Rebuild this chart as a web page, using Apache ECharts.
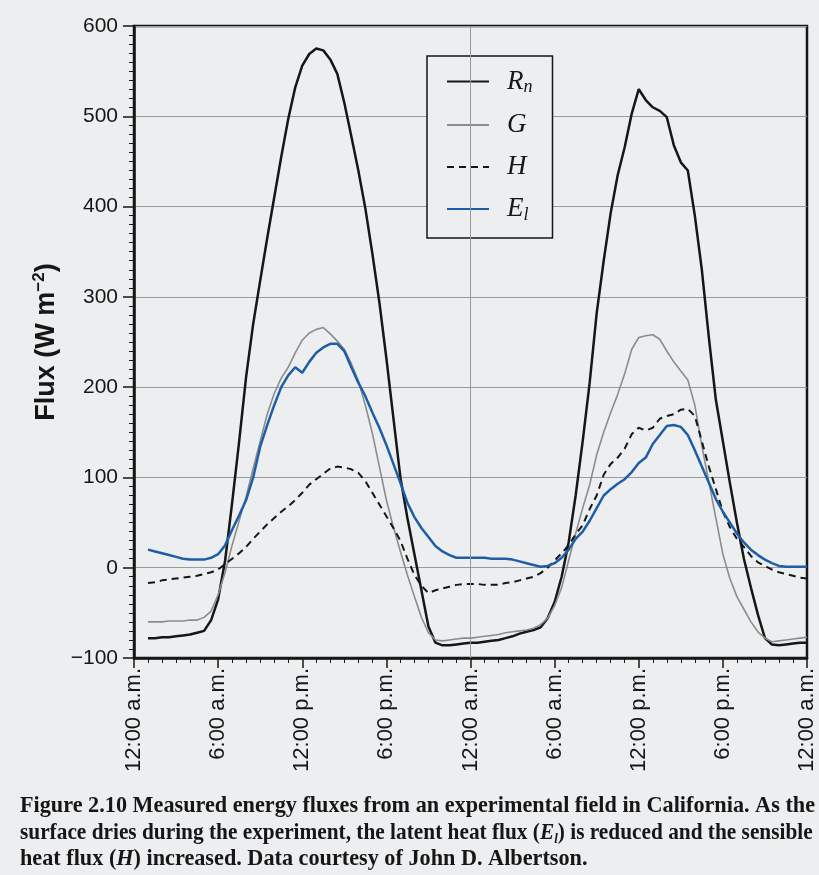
<!DOCTYPE html>
<html>
<head>
<meta charset="utf-8">
<script src="https://cdn.jsdelivr.net/npm/echarts@6/dist/echarts.min.js"></script>
<style>
  html, body { margin: 0; padding: 0; background: #eceef0; }
  #main-chart { width: 819px; height: 875px; }
</style>
</head>
<body>
<div id="main-chart"></div>
<script>
// hours since the first midnight, half-hour steps
const hours = [
  1, 1.5, 2, 2.5, 3, 3.5, 4, 4.5, 5, 5.5, 6, 6.5, 7, 7.5, 8, 8.5, 9, 9.5, 10, 10.5,
  11, 11.5, 12, 12.5, 13, 13.5, 14, 14.5, 15, 15.5, 16, 16.5, 17, 17.5, 18, 18.5, 19, 19.5, 20, 20.5,
  21, 21.5, 22, 22.5, 23, 23.5, 24, 24.5, 25, 25.5, 26, 26.5, 27, 27.5, 28, 28.5, 29, 29.5, 30, 30.5,
  31, 31.5, 32, 32.5, 33, 33.5, 34, 34.5, 35, 35.5, 36, 36.5, 37, 37.5, 38, 38.5, 39, 39.5, 40, 40.5,
  41, 41.5, 42, 42.5, 43, 43.5, 44, 44.5, 45, 45.5, 46, 46.5, 47, 47.5, 48
];

const rn = [
  -78, -78, -77, -77, -76, -75, -74, -72, -70, -58, -35, 8, 72, 140, 212, 270, 318, 365, 410, 455,
  497, 532, 556, 569, 575, 573, 563, 547, 515, 478, 440, 398, 348, 294, 232, 166, 100, 55, 15, -25,
  -65, -83, -86, -86, -85, -84, -83, -83, -82, -81, -80, -78, -76, -73, -71, -69, -66, -56, -38, -10,
  28, 80, 140, 205, 282, 340, 393, 435, 466, 503, 530, 518, 510, 506, 499, 468, 449, 440, 390, 330,
  255, 186, 140, 94, 50, 10, -22, -52, -78, -85, -86, -85, -84, -83, -83
];

const g = [
  -60, -60, -60, -59, -59, -59, -58, -58, -55, -48, -30, -5, 25, 52, 79, 110, 140, 170, 193, 210,
  222, 238, 252, 260, 264, 266, 259, 251, 242, 226, 207, 180, 149, 112, 75, 45, 18, -8, -32, -55,
  -72, -80, -81, -80, -79, -78, -78, -77, -76, -75, -74, -72, -71, -70, -69, -67, -63, -56, -42, -22,
  8, 38, 66, 92, 125, 150, 172, 192, 215, 242, 255, 257, 258, 253, 240, 228, 218, 208, 180, 135,
  95, 55, 15, -12, -32, -46, -60, -71, -78, -82, -81, -80, -79, -78, -77
];

const h = [
  -17, -16, -14, -13, -12, -11, -10, -9, -7, -5, -2, 4, 10, 16, 23, 32, 40, 48, 55, 62,
  68, 75, 83, 92, 98, 104, 110, 112, 111, 109, 105, 96, 83, 70, 57, 44, 30, 10, -8, -20,
  -28, -25, -23, -21, -19, -18, -18, -18, -19, -19, -19, -17, -16, -14, -12, -10, -6, 0, 8, 16,
  25, 37, 47, 65, 80, 103, 115, 122, 132, 148, 155, 152, 155, 165, 168, 170, 175, 176, 168, 140,
  112, 87, 62, 45, 32, 23, 13, 6, 2, -2, -5, -7, -9, -11, -12
];

const el = [
  20, 18, 16, 14, 12, 10, 9, 9, 9, 11, 15, 25, 42, 58, 75, 100, 134, 158, 180, 200,
  213, 222, 216, 228, 238, 244, 248, 248, 240, 222, 205, 190, 172, 155, 136, 115, 94, 72, 56, 44,
  34, 24, 18, 14, 11, 11, 11, 11, 11, 10, 10, 10, 9, 7, 5, 3, 1, 2, 5, 11,
  20, 32, 40, 52, 66, 80, 87, 93, 98, 106, 116, 122, 137, 147, 157, 158, 156, 147, 130, 112,
  94, 76, 62, 50, 38, 28, 20, 14, 9, 5, 2, 1, 1, 1, 1
];

const timeLabels = ['12:00 a.m.', '6:00 a.m.', '12:00 p.m.', '6:00 p.m.',
  '12:00 a.m.', '6:00 a.m.', '12:00 p.m.', '6:00 p.m.', '12:00 a.m.'];

const captionLines = [
  'Figure 2.10 Measured energy fluxes from an experimental field in California. As the',
  'surface dries during the experiment, the latent heat flux (El) is reduced and the sensible',
  'heat flux (H) increased. Data courtesy of John D. Albertson.'
];

const bg = '#eceef0';
const ink = '#161616';
const sans = '"Liberation Sans", Arial, sans-serif';
const serif = '"Liberation Serif", "Times New Roman", serif';

const pairs = (vals) => hours.map((x, i) => [x, vals[i]]);

// caption font is narrower than Times, squeeze it to the page width
const measure = document.createElement('canvas').getContext('2d');
measure.font = 'bold 23px "Liberation Serif"';
const sx1 = 795 / measure.measureText(captionLines[0]).width;
const sx2 = 795 / measure.measureText(captionLines[1]).width;

const capRich = {
  i: { fontFamily: serif, fontWeight: 'bold', fontStyle: 'italic', fontSize: 23, fill: ink, lineHeight: 26 },
  sub: { fontFamily: serif, fontWeight: 'bold', fontStyle: 'italic', fontSize: 14, fill: ink, lineHeight: 14, verticalAlign: 'bottom' }
};
const capStyle = { fontFamily: serif, fontWeight: 'bold', fontSize: 23, fill: ink, verticalAlign: 'middle' };

const chartDom = document.getElementById('main-chart');
const myChart = echarts.init(chartDom);

const option = {
  backgroundColor: bg,
  animation: false,
  grid: {
    left: 134, right: 12, top: 26, bottom: 217,
    show: true, borderColor: ink, borderWidth: 2.5, backgroundColor: 'transparent'
  },
  legend: {
    orient: 'vertical',
    left: 427, top: 56,
    padding: [12, 20, 14, 19],
    itemWidth: 42, itemHeight: 14, itemGap: 15,
    backgroundColor: bg,
    borderColor: ink, borderWidth: 1.5,
    itemStyle: { opacity: 0 },
    formatter: (name) => ({ Rn: '{i|R}{s|n}', G: '{i|G}', H: '{i|H}', El: '{i|E}{s|l}' })[name],
    textStyle: {
      padding: [0, 0, 0, 13],
      rich: {
        i: { fontFamily: serif, fontStyle: 'italic', fontSize: 27, color: ink, lineHeight: 30 },
        s: { fontFamily: serif, fontStyle: 'italic', fontSize: 18, color: ink, lineHeight: 14, verticalAlign: 'bottom' }
      }
    }
  },
  xAxis: {
    type: 'value', min: 0, max: 48, interval: 6,
    axisLine: { onZero: false, lineStyle: { color: ink, width: 2.5 } },
    axisTick: { length: 10, lineStyle: { color: ink, width: 1.5 } },
    minorTick: { show: true, splitNumber: 6, length: 5, lineStyle: { color: ink, width: 1 } },
    splitLine: { show: false },
    axisLabel: {
      rotate: 90, margin: 10, color: ink, fontFamily: sans, fontSize: 22,
      formatter: (v) => timeLabels[Math.round(v / 6)]
    }
  },
  yAxis: {
    type: 'value', min: -100, max: 600, interval: 100,
    name: '{b|Flux (W m}{sup|\u22122}{b|)}',
    nameLocation: 'middle', nameGap: 72,
    nameTextStyle: {
      rich: {
        b: { fontFamily: sans, fontWeight: 'bold', fontSize: 27, color: ink, lineHeight: 30 },
        sup: { fontFamily: sans, fontWeight: 'bold', fontSize: 17, color: ink, lineHeight: 16, verticalAlign: 'top' }
      }
    },
    axisLine: { lineStyle: { color: ink, width: 2.5 } },
    axisTick: { length: 11, lineStyle: { color: ink, width: 1.5 } },
    minorTick: { show: true, splitNumber: 10, length: 5, lineStyle: { color: ink, width: 1 } },
    splitLine: { lineStyle: { color: '#9a9a9a', width: 1 } },
    axisLabel: {
      margin: 16, color: ink, fontFamily: sans, fontSize: 21,
      formatter: (v) => (v < 0 ? '\u2212' + Math.abs(v) : String(v))
    }
  },
  series: [
    {
      name: 'Rn', type: 'line', data: pairs(rn), symbol: 'none',
      lineStyle: { color: ink, width: 2.5 }, itemStyle: { color: ink },
      markLine: {
        silent: true, symbol: 'none', label: { show: false },
        lineStyle: { color: '#9a9a9a', width: 1, type: 'solid' },
        data: [{ xAxis: 24 }]
      }
    },
    {
      name: 'G', type: 'line', data: pairs(g), symbol: 'none',
      lineStyle: { color: '#8c8c8c', width: 1.6 }, itemStyle: { color: '#8c8c8c' }
    },
    {
      name: 'H', type: 'line', data: pairs(h), symbol: 'none',
      lineStyle: { color: ink, width: 2, type: [7, 5] }, itemStyle: { color: ink }
    },
    {
      name: 'El', type: 'line', data: pairs(el), symbol: 'none',
      lineStyle: { color: '#1f5ea6', width: 2.5 }, itemStyle: { color: '#1f5ea6' }
    }
  ],
  graphic: [
    {
      type: 'text', x: 20, y: 806, scaleX: sx1,
      style: Object.assign({ text: captionLines[0] }, capStyle)
    },
    {
      type: 'text', x: 20, y: 833, scaleX: sx2,
      style: Object.assign({
        text: 'surface dries during the experiment, the latent heat flux ({i|E}{sub|l}) is reduced and the sensible',
        rich: capRich
      }, capStyle)
    },
    {
      type: 'text', x: 20, y: 859, scaleX: sx1,
      style: Object.assign({
        text: 'heat flux ({i|H}) increased. Data courtesy of John D. Albertson.',
        rich: capRich
      }, capStyle)
    }
  ]
};

myChart.setOption(option);
</script>
</body>
</html>
